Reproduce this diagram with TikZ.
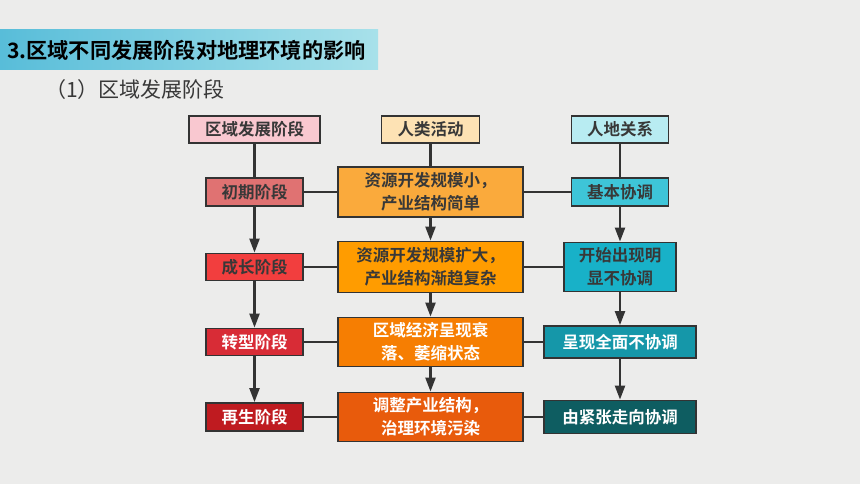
\documentclass[tikz,border=0pt]{standalone}
\usepackage{fontspec}
\setmainfont{Noto Sans CJK SC}
\newfontfamily\cjkb{Noto Sans CJK SC Bold}
\usetikzlibrary{arrows.meta}
\definecolor{bgc}{HTML}{ECECEB}
\definecolor{linec}{HTML}{333333}
\definecolor{hA}{HTML}{F9C8D0}
\definecolor{hB}{HTML}{FDE2B4}
\definecolor{hC}{HTML}{B8ECF2}
\definecolor{lA}{HTML}{E07272}
\definecolor{lB}{HTML}{F23E3E}
\definecolor{lC}{HTML}{D82C36}
\definecolor{lD}{HTML}{BF1B20}
\definecolor{mA}{HTML}{FAAA3C}
\definecolor{mB}{HTML}{FF9C00}
\definecolor{mC}{HTML}{F67E02}
\definecolor{mD}{HTML}{E85B0C}
\definecolor{rA}{HTML}{3EC5D8}
\definecolor{rB}{HTML}{18B1C8}
\definecolor{rC}{HTML}{1597A9}
\definecolor{rD}{HTML}{0E5D61}
\definecolor{tA}{HTML}{58BDD9}
\definecolor{tB}{HTML}{A8E1EA}
\definecolor{darktxt}{HTML}{383838}
\tikzset{
  boxbase/.style={draw=linec, line width=1.8pt, inner sep=0pt, align=center,
    font=\cjkb\fontsize{16.5}{23}\selectfont},
  darkbox/.style={boxbase, text=darktxt},
  lightbox/.style={boxbase, text=white},
  conn/.style={draw=linec, line width=2.2pt},
  arr/.style={conn, -{Triangle[width=10pt,length=14pt]}},
}
\begin{document}
\begin{tikzpicture}[x=1pt,y=-1pt]
\fill[bgc] (0,0) rectangle (860,484);
\useasboundingbox (0,0) rectangle (860,484);
% title bar
\shade[left color=tA, right color=tB] (0,30) rectangle (378,70);
\node[anchor=west, inner sep=0pt, font=\cjkb\fontsize{21.2}{24}\selectfont, text=black] (title) at (7,50) {3.区域不同发展阶段对地理环境的影响};
\node[anchor=west, inner sep=0pt, font=\fontsize{21}{24}\selectfont, text=darktxt] (sub) at (45,90) {（1）区域发展阶段};
% headers
\node[darkbox, fill=hA, minimum width=131pt, minimum height=27pt] (h1) at (254.5,129.5) {区域发展阶段};
\node[darkbox, fill=hB, minimum width=98pt, minimum height=27pt] (h2) at (430.5,129.5) {人类活动};
\node[darkbox, fill=hC, minimum width=97pt, minimum height=27pt] (h3) at (620,129.5) {人地关系};
% left column
\node[darkbox, fill=lA, minimum width=97pt, minimum height=28pt] (l1) at (254.5,192) {初期阶段};
\node[darkbox, fill=lB, minimum width=97pt, minimum height=27pt] (l2) at (254.5,267) {成长阶段};
\node[lightbox, fill=lC, minimum width=97pt, minimum height=27pt] (l3) at (254.5,342) {转型阶段};
\node[lightbox, fill=lD, minimum width=97pt, minimum height=28pt] (l4) at (254.5,417) {再生阶段};
% middle column
\node[darkbox, fill=mA, minimum width=185pt, minimum height=50pt] (m1) at (430.5,192) {资源开发规模小，\\产业结构简单};
\node[darkbox, fill=mB, minimum width=185pt, minimum height=51pt] (m2) at (430.5,267) {资源开发规模扩大，\\产业结构渐趋复杂};
\node[lightbox, fill=mC, minimum width=185pt, minimum height=49pt] (m3) at (430.5,342) {区域经济呈现衰\\落、萎缩状态};
\node[lightbox, fill=mD, minimum width=185pt, minimum height=49pt] (m4) at (430.5,417) {调整产业结构，\\治理环境污染};
% right column
\node[darkbox, fill=rA, minimum width=97pt, minimum height=28pt] (r1) at (620,192) {基本协调};
\node[darkbox, fill=rB, minimum width=112pt, minimum height=49pt] (r2) at (620,267) {开始出现明\\显不协调};
\node[lightbox, fill=rC, minimum width=152pt, minimum height=32pt] (r3) at (620,342) {呈现全面不协调};
\node[lightbox, fill=rD, minimum width=152pt, minimum height=33pt] (r4) at (620,417) {由紧张走向协调};
% vertical connectors
\draw[conn] (h1.south) -- (l1.north);
\draw[arr] (l1.south) -- (l2.north);
\draw[arr] (l2.south) -- (l3.north);
\draw[arr] (l3.south) -- (l4.north);
\draw[conn] (h2.south) -- (m1.north);
\draw[arr] (m1.south) -- (m2.north);
\draw[arr] (m2.south) -- (m3.north);
\draw[arr] (m3.south) -- (m4.north);
\draw[conn] (h3.south) -- (r1.north);
\draw[arr] (r1.south) -- (r2.north);
\draw[arr] (r2.south) -- (r3.north);
\draw[arr] (r3.south) -- (r4.north);
% horizontal connectors
\draw[conn] (l1.east) -- (m1.west);
\draw[conn] (m1.east) -- (r1.west);
\draw[conn] (l2.east) -- (m2.west);
\draw[conn] (m2.east) -- (r2.west);
\draw[conn] (l3.east) -- (m3.west);
\draw[conn] (m3.east) -- (r3.west);
\draw[conn] (l4.east) -- (m4.west);
\draw[conn] (m4.east) -- (r4.west);
\end{tikzpicture}
\end{document}
